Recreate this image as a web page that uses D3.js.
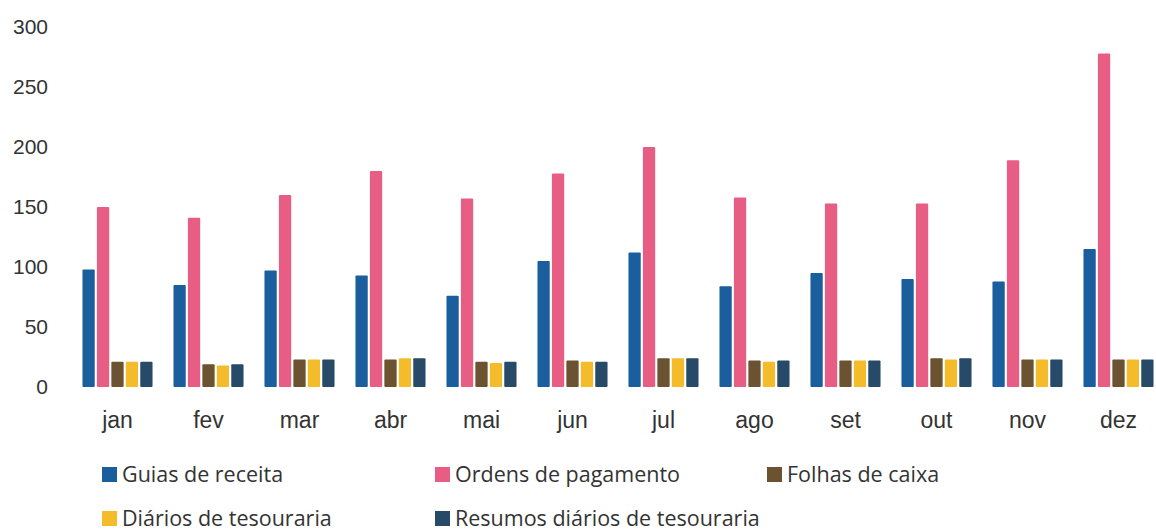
<!DOCTYPE html>
<html>
<head>
<meta charset="utf-8">
<script src="https://cdn.jsdelivr.net/npm/d3@7"></script>
<style>
  html, body { margin: 0; padding: 0; background: #fff; }
  svg { display: block; font-family: "Open Sans", "Noto Sans", sans-serif; }
</style>
</head>
<body>
<script>
// Data.
var months = ["jan", "fev", "mar", "abr", "mai", "jun", "jul", "ago", "set", "out", "nov", "dez"];
var seriesNames = ["Guias de receita", "Ordens de pagamento", "Folhas de caixa",
                   "Diários de tesouraria", "Resumos diários de tesouraria"];
var guias    = [98, 85, 97, 93, 76, 105, 112, 84, 95, 90, 88, 115];
var ordens   = [150, 141, 160, 180, 157, 178, 200, 158, 153, 153, 189, 278];
var folhas   = [21, 19, 23, 23, 21, 22, 24, 22, 22, 24, 23, 23];
var diarios  = [21, 18, 23, 24, 20, 21, 24, 21, 22, 23, 23, 23];
var resumos  = [21, 19, 23, 24, 21, 21, 24, 22, 22, 24, 23, 23];
var yTicks   = [0, 50, 100, 150, 200, 250, 300];
var colors   = ["#1a5e9e", "#e85d83", "#6b5230", "#f4bc2a", "#274a68"];

var allSeries = [guias, ordens, folhas, diarios, resumos];

// Define sizes.
var width = 1156, height = 532;

var svg = d3.select("body").append("svg")
        .attr("width", width)
        .attr("height", height);

// Scales.
var x = d3.scaleBand()
        .domain(months)
        .range([72, 1164])
        .paddingInner(0.23)
        .paddingOuter(0.115);
var xs = d3.scaleBand()
        .domain(d3.range(seriesNames.length))
        .range([0, x.bandwidth()])
        .paddingInner(0.15);
var y = d3.scaleLinear()
        .domain([0, 300])
        .range([387, 27]);

// Y axis: labels only.
var yAxis = svg.append("g")
        .attr("transform", "translate(48,0)")
        .call(d3.axisLeft(y).tickValues(yTicks).tickSize(0).tickPadding(0));
yAxis.select(".domain").remove();
yAxis.selectAll("text")
        .attr("fill", "#333")
        .style("font-size", "21px");

// X axis: labels only.
var xAxis = svg.append("g")
        .attr("transform", "translate(0,412)")
        .call(d3.axisBottom(x).tickSize(0).tickPadding(0));
xAxis.select(".domain").remove();
xAxis.selectAll("text")
        .attr("fill", "#333")
        .attr("dy", "0.71em")
        .style("font-size", "23px");

// Bars.
var groups = svg.append("g").selectAll("g")
        .data(months)
        .join("g")
        .attr("transform", function(d) { return "translate(" + x(d) + ",0)"; });
groups.selectAll("rect")
        .data(function(d, i) { return allSeries.map(function(s, k) { return {k: k, v: s[i]}; }); })
        .join("rect")
        .attr("x", function(d) { return xs(d.k); })
        .attr("y", function(d) { return y(d.v); })
        .attr("width", xs.bandwidth())
        .attr("height", function(d) { return y(0) - y(d.v); })
        .attr("rx", 1)
        .attr("fill", function(d) { return colors[d.k]; });

// Legend.
var legendPos = [[102, 467], [435, 467], [767, 467], [102, 511], [435, 511]];
var legend = svg.append("g").selectAll("g")
        .data(seriesNames)
        .join("g")
        .attr("transform", function(d, i) { return "translate(" + legendPos[i][0] + "," + legendPos[i][1] + ")"; });
legend.append("rect")
        .attr("width", 15)
        .attr("height", 15)
        .attr("fill", function(d, i) { return colors[i]; });
legend.append("text")
        .attr("x", 20)
        .attr("y", 15)
        .attr("fill", "#333")
        .style("font-size", "21.5px")
        .text(function(d) { return d; });
</script>
</body>
</html>
